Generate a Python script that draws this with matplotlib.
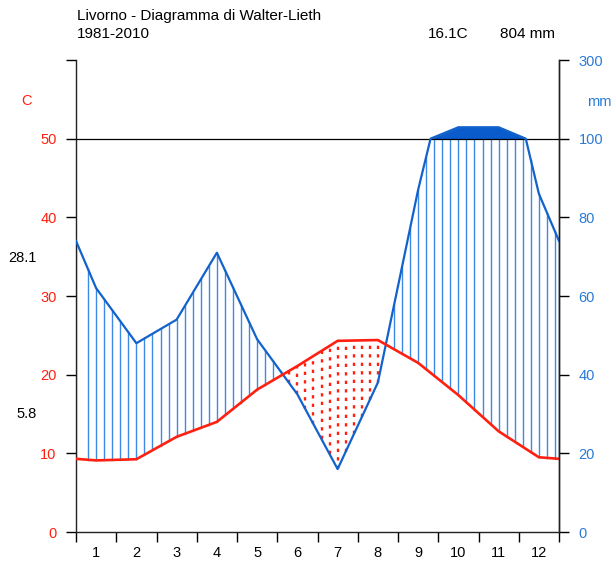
import numpy as np
import matplotlib
matplotlib.use("Agg")
import matplotlib.pyplot as plt

plt.rcParams["font.family"] = ["Liberation Sans", "DejaVu Sans"]

# Livorno 1981-2010, monthly means
months = [str(m) for m in range(1, 13)]
temp = [9.1, 9.25, 12.1, 14.0, 18.1, 21.1, 24.3, 24.4, 21.5, 17.4, 12.8, 9.5]   # C
prec = [62, 48, 54, 71, 49, 35, 16, 38, 87, 129, 129, 86]                      # mm
title = "Livorno - Diagramma di Walter-Lieth"
period = "1981-2010"
tmax_warm = "28.1"
tmin_cold = "5.8"

red = "#ff2010"
blue = "#1262cc"
hatch_blue = "#3d8ae6"
lab_blue = "#2a7ad8"


def scale(p):
    # mm -> temperature units: 2 mm per C up to 100 mm, 20 mm per C above
    p = np.asarray(p, float)
    return np.where(p <= 100, p / 2.0, 50 + (p - 100) / 20.0)


# month centres plus both edges (edge = mean of Dec and Jan)
x = np.concatenate([[0], np.arange(12) + 0.5, [12]])
t = np.concatenate([[(temp[0] + temp[-1]) / 2], temp, [(temp[0] + temp[-1]) / 2]])
p = np.concatenate([[(prec[0] + prec[-1]) / 2], prec, [(prec[0] + prec[-1]) / 2]])

# add the points where precipitation crosses 100 mm
xs, ps = [x[0]], [p[0]]
for i in range(1, len(x)):
    if (p[i - 1] - 100) * (p[i] - 100) < 0:
        f = (100 - p[i - 1]) / (p[i] - p[i - 1])
        xs.append(x[i - 1] + f * (x[i] - x[i - 1]))
        ps.append(100)
    xs.append(x[i])
    ps.append(p[i])
xs = np.array(xs)
pscaled = scale(ps)

fig = plt.figure(figsize=(6.15, 5.71), dpi=100)
ax = fig.add_axes([76 / 615, 39 / 571, 483 / 615, 472 / 571])

# hatching: blue where humid, red dots where arid
hx = np.concatenate([[0], np.arange(3, 120, 2) / 10, [12]])
for xi in hx:
    tv = np.interp(xi, x, t)
    pv = np.interp(xi, xs, pscaled)
    if pv > tv:
        ax.plot([xi, xi], [tv, min(pv, 50)], color=hatch_blue, lw=1.0, zorder=2)
    else:
        ax.plot([xi, xi], [pv, tv], color=red, lw=1.7, linestyle=(0, (1.4, 2.2)), zorder=2)

ax.fill_between(xs, 50, pscaled, where=pscaled >= 50, color="#0a5ccc", lw=0, zorder=3)
ax.axhline(50, color="black", lw=0.9, zorder=3)
ax.plot(xs, pscaled, color=blue, lw=1.6, zorder=4)
ax.plot(x, t, color=red, lw=1.9, zorder=5)

ax.set_xlim(0, 12)
ax.set_ylim(0, 60)
ax.spines["top"].set_visible(False)
for s in ["left", "right", "bottom"]:
    ax.spines[s].set_linewidth(1.0)
    ax.spines[s].set_color("#222222")

ax.set_xticks(np.arange(13))
ax.set_xticklabels([])
ax.set_xticks(np.arange(12) + 0.5, minor=True)
ax.set_xticklabels(months, minor=True)
ax.tick_params(axis="x", which="major", length=7, width=1.0, direction="out")
ax.tick_params(axis="x", which="minor", length=0, pad=10, labelsize=10.5)

ax.set_yticks(np.arange(0, 61, 10))
ax.set_yticklabels(["0", "10", "20", "30", "40", "50", ""])
ax.tick_params(axis="y", length=7, width=1.0, pad=7, labelsize=10.5, labelcolor=red)

ax2 = ax.twinx()
ax2.set_ylim(0, 60)
ax2.set_yticks(np.arange(0, 61, 10))
ax2.set_yticklabels(["0", "20", "40", "60", "80", "100", "300"])
ax2.tick_params(axis="y", length=7, width=1.0, pad=7, labelsize=10.5, labelcolor=lab_blue)
for s in ["top", "left", "bottom"]:
    ax2.spines[s].set_visible(False)
ax2.spines["right"].set_linewidth(1.0)
ax2.spines["right"].set_color("#222222")


def px(xp, yp):
    return xp / 615, 1 - yp / 571


fig.text(*px(77, 16), title, fontsize=11, va="center", ha="left")
fig.text(*px(77, 34), period, fontsize=11, va="center", ha="left")
fig.text(*px(448, 34), f"{np.mean(temp):.1f}C", fontsize=11, va="center", ha="center")
fig.text(*px(555, 34), f"{sum(prec)} mm", fontsize=11, va="center", ha="right")
fig.text(*px(26, 101), "C", fontsize=10.5, color=red, va="center", ha="center")
fig.text(*px(599, 102), "mm", fontsize=10.5, color=lab_blue, va="center", ha="center")
fig.text(*px(37, 258), tmax_warm, fontsize=10.5, va="center", ha="right")
fig.text(*px(37, 414), tmin_cold, fontsize=10.5, va="center", ha="right")

fig.savefig("out.png", dpi=100)
